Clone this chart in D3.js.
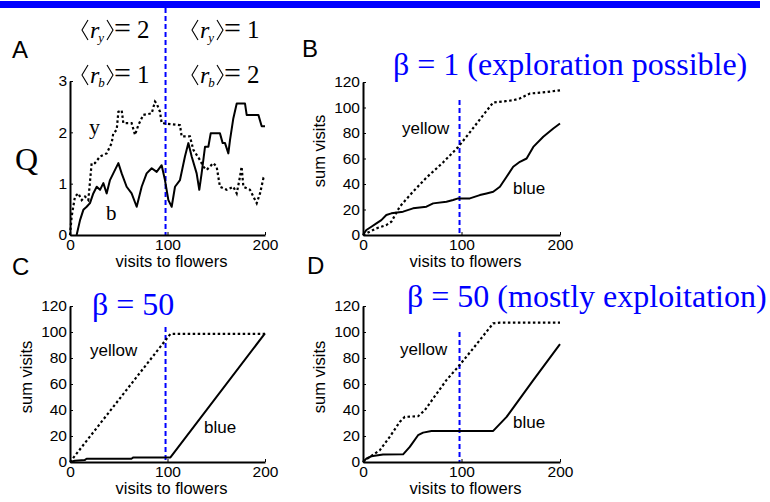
<!DOCTYPE html>
<html>
<head>
<meta charset="utf-8">
<script src="https://cdn.jsdelivr.net/npm/d3@7"></script>
<style>
  body { margin: 0; background: #fff; }
  svg { display: block; }
</style>
</head>
<body>
<svg id="graph" width="770" height="502"></svg>
<script>
// tick labels
var qTicks = [0, 1, 2, 3];
var sumTicks = [0, 20, 40, 60, 80, 100, 120];
var visitTicks = [0, 100, 200];

// A: Q values (visit, Q)
var qYellow = [[0,0],[1.7,0.36],[5.1,0.75],[8.5,0.81],[12,0.68],[15.4,0.75],[18.8,0.68],[22.2,1.4],[25.6,1.4],[30.8,1.53],[37.6,1.59],[42.7,1.79],[44.4,1.98],[47.9,2.05],[49.6,2.4],[53,2.43],[54.7,2.18],[63.2,2.18],[66.7,1.95],[70.1,2.14],[75.2,2.34],[83.8,2.37],[87.2,2.6],[88.9,2.56],[92.3,2.4],[94,2.18],[112.8,2.14],[114.5,1.92],[123,1.92],[126.5,1.66],[133.3,1.46],[136.8,1.33],[140.2,1.27],[147,1.4],[150.4,1.33],[153.8,0.94],[160.7,0.88],[167.5,0.94],[171,0.81],[174.4,1.14],[176,1.33],[177.8,0.94],[184.6,0.88],[188,0.75],[191.5,0.62],[194.9,0.81],[198.3,1.1],[200,1.08]];
var qBlue = [[6.8,0],[10.3,0.29],[13.7,0.49],[17.1,0.55],[20.5,0.62],[23.9,0.81],[27.4,0.94],[30.8,0.88],[34.2,1.01],[37.6,0.81],[41,1.07],[44.4,1.2],[49.6,1.4],[53,1.2],[58.1,0.94],[63.2,0.81],[68.4,0.55],[73.5,0.94],[78.6,1.2],[83.8,1.3],[88.9,1.23],[94,1.36],[97.4,1.07],[100.9,0.68],[104.3,0.55],[107.7,0.94],[112.8,1.07],[117.9,1.53],[121.4,1.79],[124.8,1.53],[129.9,1.2],[132.6,0.88],[135,1.2],[138.5,1.72],[141.9,1.72],[144.3,1.98],[153.8,1.98],[156.6,1.79],[159,1.79],[162.4,1.59],[164.1,1.85],[167.5,2.27],[171,2.56],[179.5,2.56],[181.2,2.34],[193.2,2.34],[196.6,2.12],[200,2.12]];

// B: beta = 1, cumulative visits
var bYellow = [[0,0],[6.8,2.6],[13.6,5.2],[23.7,7.8],[28.8,10.4],[37.3,22.2],[50.8,34],[64.4,45],[81.4,57],[96.6,69],[110,82],[122,94],[132.2,104],[145,105],[152.5,105.7],[159,107],[169.5,111],[185,112],[200,113.5]];
var bBlue = [[0,0],[3.4,3.9],[8.5,6.5],[13.6,9.1],[18.6,11.7],[23.7,15.7],[28.8,17],[40.7,18.3],[50.8,20.9],[64.4,22.2],[71.2,24.8],[84.7,26.1],[91.5,27.4],[96.6,28.7],[108.5,28.7],[118.6,31.3],[125.4,32.6],[132.2,33.9],[139,37.8],[145.8,45.7],[152.5,53.5],[159.3,57.4],[166.1,60],[172.9,69.1],[183,77],[193.2,83.5],[200,87.4]];

// C: beta = 50
var cYellow = [[0,0],[103,98.5],[200,98.5]];
var cBlue = [[0,0],[5,1],[15,1.5],[17,2.5],[63,2.5],[65,3.5],[103,3.5],[200,99]];

// D: beta = 50, mostly exploitation
var dYellow = [[0,0],[6.8,3.9],[17,9],[27.1,19.3],[37.3,30.8],[42.4,34.7],[55.9,35.2],[62.7,39.8],[71.2,48.8],[84.7,63],[96.6,73.2],[111.9,87.4],[132.2,106.7],[139,107.2],[200,107.2]];
var dBlue = [[0,0],[3.4,2.6],[8.5,4.4],[20.3,5.7],[40.7,5.9],[47.5,11.6],[55.9,20.6],[61,22.6],[69.5,23.9],[132.2,23.9],[145.8,34.7],[172.9,63],[200,90.7]];

var titles = ["\u03b2 = 1 (exploration possible)", "\u03b2 = 50", "\u03b2 = 50 (mostly exploitation)"];

var svg = d3.select("#graph");
var sans = "'Liberation Sans', Arial, Helvetica, sans-serif";
var serif = "'Liberation Serif', 'Times New Roman', serif";
var blue = "#0000ff";

// top rule
svg.append("rect").attr("x", 0).attr("y", 1).attr("width", 760).attr("height", 7).attr("fill", blue);

function panel(p) {
    var x = d3.scaleLinear().domain([0, 200]).range(p.xr);
    var y = d3.scaleLinear().domain(p.yd).range(p.yr);
    var g = svg.append("g");

    var line = d3.line().x(d => x(d[0])).y(d => y(d[1]));

    // blue dashed marker at visit 100
    g.append("line")
        .attr("x1", x(98)).attr("x2", x(98))
        .attr("y1", p.dashTop).attr("y2", y(0))
        .attr("stroke", blue).attr("stroke-width", 2)
        .attr("stroke-dasharray", "5,3");

    g.append("path").datum(p.yellow)
        .attr("d", line).attr("fill", "none")
        .attr("stroke", "#000").attr("stroke-width", 2.2)
        .attr("stroke-dasharray", "2.5,2.5");
    g.append("path").datum(p.blue)
        .attr("d", line).attr("fill", "none")
        .attr("stroke", "#000").attr("stroke-width", 2)
        .attr("stroke-linejoin", "round");

    var xAxis = g.append("g")
        .attr("transform", `translate(0,${y(0)})`)
        .call(d3.axisBottom(x).tickValues(visitTicks).tickFormat(d3.format("d"))
            .tickSizeInner(-3).tickSizeOuter(0).tickPadding(4));
    var yAxis = g.append("g")
        .attr("transform", `translate(${x(0)},0)`)
        .call(d3.axisLeft(y).tickValues(p.ticks).tickFormat(d3.format("d"))
            .tickSizeInner(-3).tickSizeOuter(0).tickPadding(3));
    [xAxis, yAxis].forEach(a => {
        a.select(".domain").attr("stroke-width", 2);
        a.selectAll("text").attr("font-family", sans).attr("font-size", 15.5).attr("fill", "#000");
        a.selectAll(".tick line").attr("stroke-width", 1);
    });

    g.append("text")
        .attr("x", (p.xr[0] + p.xr[1]) / 2 + 4).attr("y", y(0) + 32)
        .attr("text-anchor", "middle")
        .attr("font-family", sans).attr("font-size", 16.5)
        .text("visits to flowers");

    g.append("text")
        .attr("x", p.letter[0]).attr("y", p.letter[1])
        .attr("font-family", sans).attr("font-size", 24)
        .text(p.name);
    return {x: x, y: y, g: g};
}

var pA = panel({name: "A", letter: [12, 58], xr: [70, 265], yr: [235, 81], yd: [0, 3], ticks: qTicks, yellow: qYellow, blue: qBlue, dashTop: 8});
var pB = panel({name: "B", letter: [302, 57], xr: [363, 560], yr: [235, 82], yd: [0, 120], ticks: sumTicks, yellow: bYellow, blue: bBlue, dashTop: 100});
var pC = panel({name: "C", letter: [12, 275], xr: [70, 265], yr: [462, 306], yd: [0, 120], ticks: sumTicks, yellow: cYellow, blue: cBlue, dashTop: 327});
var pD = panel({name: "D", letter: [307, 274], xr: [363, 560], yr: [462, 306], yd: [0, 120], ticks: sumTicks, yellow: dYellow, blue: dBlue, dashTop: 332});

// panel A labels
svg.append("text").attr("x", 15).attr("y", 170)
    .attr("font-family", serif).attr("font-size", 32).text("Q");
svg.append("text").attr("x", 89).attr("y", 134)
    .attr("font-family", serif).attr("font-size", 22).text("y");
svg.append("text").attr("x", 106).attr("y", 220)
    .attr("font-family", serif).attr("font-size", 21).text("b");

// <r_sub> = val, brackets drawn as thin strokes around the text
function meanLabel(x, y, sub, val) {
    var g = svg.append("g").attr("transform", `translate(${x},${y})`);
    var bracket = d3.line();
    g.append("path").attr("d", bracket([[7, -18], [1, -8], [7, 2]]))
        .attr("fill", "none").attr("stroke", "#000").attr("stroke-width", 1.1);
    g.append("path").attr("d", bracket([[26, -18], [32, -8], [26, 2]]))
        .attr("fill", "none").attr("stroke", "#000").attr("stroke-width", 1.1);
    var t = g.append("text").attr("x", 9).attr("y", 0)
        .attr("font-family", serif).attr("font-size", 24);
    t.append("tspan").attr("font-style", "italic").text("r");
    t.append("tspan").attr("font-style", "italic").attr("font-size", 13).attr("dx", -1).attr("dy", 4).text(sub);
    g.append("text").attr("x", 33).attr("y", 0)
        .attr("font-family", serif).attr("font-size", 30).text("=");
    g.append("text").attr("x", 56).attr("y", 0)
        .attr("font-family", serif).attr("font-size", 25).text(val);
}
meanLabel(81, 38, "y", "2");
meanLabel(191, 38, "y", "1");
meanLabel(81, 83, "b", "1");
meanLabel(191, 83, "b", "2");

// sum visits axis titles and yellow/blue labels
[[pB, 325, 151], [pC, 32, 377], [pD, 325, 377]].forEach(d => {
    svg.append("text")
        .attr("transform", `translate(${d[1]},${d[2]}) rotate(-90)`)
        .attr("text-anchor", "middle")
        .attr("font-family", sans).attr("font-size", 16.5)
        .text("sum visits");
});

var names = [[402, 134, "yellow"], [513, 194, "blue"], [90, 356, "yellow"], [204, 433, "blue"], [400, 355, "yellow"], [513, 428, "blue"]];
names.forEach(d => {
    svg.append("text").attr("x", d[0]).attr("y", d[1])
        .attr("font-family", sans).attr("font-size", 17).text(d[2]);
});

// blue titles
[[393, 75, titles[0]], [92, 315, titles[1]], [407, 307, titles[2]]].forEach(d => {
    svg.append("text").attr("x", d[0]).attr("y", d[1])
        .attr("font-family", serif).attr("font-size", 32)
        .attr("fill", blue).text(d[2]);
});
</script>
</body>
</html>
